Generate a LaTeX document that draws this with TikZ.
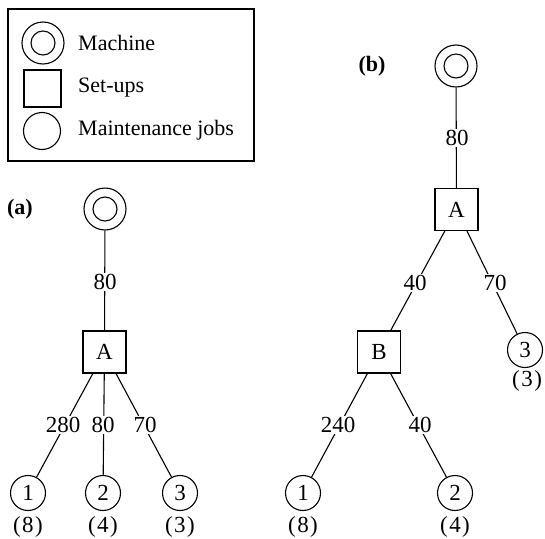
\documentclass[tikz,border=0pt]{standalone}
\usepackage{fontspec}
\setmainfont{Liberation Serif}
\begin{document}
\begin{tikzpicture}[x=1pt,y=-1pt,
  every node/.style={font=\fontsize{23}{26}\selectfont},
  mach/.style={draw,circle,minimum size=42pt,inner sep=0pt,line width=1.1pt},
  setup/.style={draw,rectangle,minimum width=43pt,minimum height=42pt,inner sep=0pt,line width=1.1pt},
  job/.style={draw,circle,minimum size=35pt,inner sep=0pt,line width=1.1pt},
  lbl/.style={fill=white,inner sep=1pt},
  tag/.style={font=\fontsize{22}{24}\selectfont\bfseries},
  edge/.style={line width=1.1pt},
  legtext/.style={anchor=west,inner sep=0pt,font=\fontsize{22}{24}\selectfont}]
\newcommand{\pj}[1]{(\kern1.5pt#1\kern1.5pt)}
\path[use as bounding box] (0,0) rectangle (545,538);
% legend
\draw[line width=1.2pt] (8,9) rectangle (254,161);
\node[mach] (lm) at (43,43) {};
\draw[line width=1.1pt] (lm.center) circle (12);
\node[setup,minimum width=37pt,minimum height=37pt] (ls) at (42.5,88.5) {};
\node[job,minimum size=37pt] (lj) at (42,131) {};
\node[legtext] (t1) at (78,43) {Machine};
\node[legtext] (t2) at (78,88) {Set-ups};
\node[legtext] (t3) at (78,130) {Maintenance jobs};
% (a)
\node[tag] (ta) at (20,209) {(a)};
\node[mach] (ma) at (105,209) {};
\draw[line width=1.1pt] (ma.center) circle (12);
\node[setup] (Aa) at (104.5,352) {A};
\node[job] (a1) at (28,493) {1};
\node[job] (a2) at (103,493) {2};
\node[job] (a3) at (180,493) {3};
\draw[edge] (ma) -- (Aa);
\draw[edge] (Aa) -- (a1);
\draw[edge] (Aa) -- (a2);
\draw[edge] (Aa) -- (a3);
\node[lbl] (la0) at (105,282) {80};
\node[lbl] (la1) at (63,425) {280};
\node[lbl] (la2) at (103,425) {80};
\node[lbl] (la3) at (145,425) {70};
\node (pa1) at (28,527) {\pj{8}};
\node (pa2) at (103,527) {\pj{4}};
\node (pa3) at (180,527) {\pj{3}};
% (b)
\node[tag] (tb) at (372,66) {(b)};
\node[mach] (mb) at (456,66) {};
\draw[line width=1.1pt] (mb.center) circle (12);
\node[setup] (Ab) at (456.5,209.5) {A};
\node[setup] (Bb) at (379,352) {B};
\node[job] (b3) at (525,350) {3};
\node[job] (b1) at (303,493) {1};
\node[job] (b2) at (455,493) {2};
\draw[edge] (mb) -- (Ab);
\draw[edge] (Ab) -- (Bb);
\draw[edge] (Ab) -- (b3);
\draw[edge] (Bb) -- (b1);
\draw[edge] (Bb) -- (b2);
\node[lbl] (lb0) at (457,138) {80};
\node[lbl] (lb1) at (415,283) {40};
\node[lbl] (lb2) at (495,283) {70};
\node[lbl] (lb3) at (338,425) {240};
\node[lbl] (lb4) at (420,425) {40};
\node (pb3) at (527,381) {\pj{3}};
\node (pb1) at (303,527) {\pj{8}};
\node (pb2) at (455,527) {\pj{4}};
\end{tikzpicture}
\end{document}
